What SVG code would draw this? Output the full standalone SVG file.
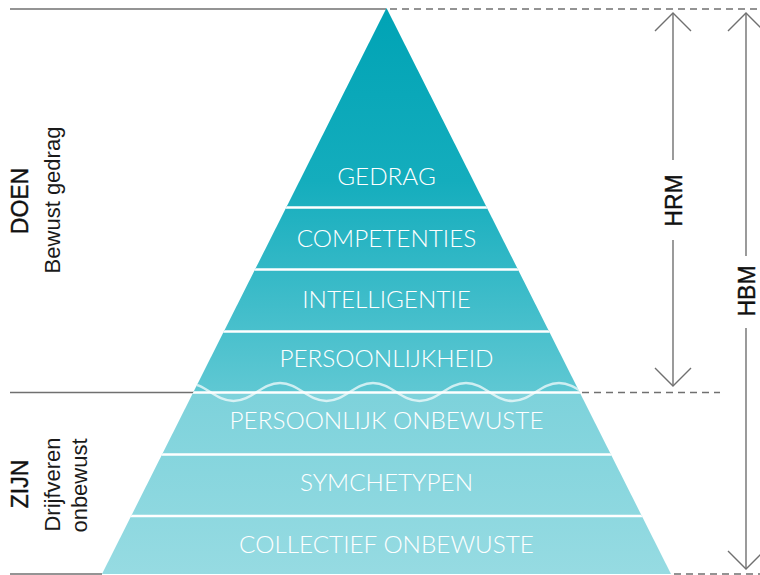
<svg xmlns="http://www.w3.org/2000/svg" width="760" height="575" viewBox="0 0 760 575">
<defs>
<linearGradient id="gUp" x1="0" y1="8" x2="0" y2="392" gradientUnits="userSpaceOnUse">
<stop offset="0" stop-color="#00A3B5"/>
<stop offset="0.45" stop-color="#14ADBD"/>
<stop offset="1" stop-color="#5FC8D3"/>
</linearGradient>
<linearGradient id="gLow" x1="0" y1="392" x2="0" y2="574" gradientUnits="userSpaceOnUse">
<stop offset="0" stop-color="#7DD2DB"/>
<stop offset="1" stop-color="#96DBE2"/>
</linearGradient>
<clipPath id="pyr"><polygon points="386.5,8 102,574 671,574"/></clipPath>
<style>
.lbl{font-family:Lato,"Liberation Sans",sans-serif;font-weight:300;font-size:24.3px;fill:#fff;text-anchor:middle}
.side{font-family:"Liberation Sans",Arial,sans-serif;font-size:22px;fill:#1a1a1a;text-anchor:middle}
.head{font-family:"Liberation Sans",Arial,sans-serif;font-size:23px;fill:#111;text-anchor:middle;stroke:#111;stroke-width:0.4}
.gl{stroke:#707070;stroke-width:1.4;fill:none}
.dash{stroke:#707070;stroke-width:1.4;fill:none;stroke-dasharray:7 5}
.sep{stroke:#fff;stroke-width:2.5}
</style>
</defs>
<g id="guides">
<line class="gl" x1="10" y1="9" x2="386" y2="9"/>
<line class="dash" x1="390" y1="9" x2="760" y2="9"/>
<line class="gl" x1="10" y1="392.5" x2="195" y2="392.5"/>
<line class="dash" x1="582" y1="392.5" x2="720" y2="392.5"/>
<line class="gl" x1="10" y1="574" x2="102" y2="574"/>
<line class="dash" x1="674" y1="574" x2="760" y2="574"/>
</g>
<g id="pyramid" clip-path="url(#pyr)">
<rect x="90" y="0" width="600" height="392.5" fill="url(#gUp)"/>
<rect x="90" y="392.5" width="600" height="185" fill="url(#gLow)"/>
<line class="sep" x1="90" y1="207.5" x2="690" y2="207.5"/>
<line class="sep" x1="90" y1="269.5" x2="690" y2="269.5"/>
<line class="sep" x1="90" y1="331.5" x2="690" y2="331.5"/>
<line class="sep" x1="90" y1="392.5" x2="690" y2="392.5"/>
<line class="sep" x1="90" y1="454.5" x2="690" y2="454.5"/>
<line class="sep" x1="90" y1="516" x2="690" y2="516"/>
<path d="M187,383 C205.6,383 214.9,401 233.5,401 S261.4,383 280,383 S307.9,401 326.5,401 S354.4,383 373,383 S400.9,401 419.5,401 S447.4,383 466,383 S493.9,401 512.5,401 S540.4,383 559,383 S586.9,401 605.5,401" fill="none" stroke="#fff" stroke-opacity="0.7" stroke-width="2.5"/>
</g>
<g id="n-gedrag"><text class="lbl" x="386.5" y="184.5">GEDRAG</text></g>
<g id="n-competenties"><text class="lbl" x="386.5" y="246.5">COMPETENTIES</text></g>
<g id="n-intelligentie"><text class="lbl" x="386.5" y="307.5">INTELLIGENTIE</text></g>
<g id="n-persoonlijkheid"><text class="lbl" x="386.5" y="367">PERSOONLIJKHEID</text></g>
<g id="n-persoonlijk-onbewuste"><text class="lbl" x="386.5" y="429">PERSOONLIJK ONBEWUSTE</text></g>
<g id="n-symchetypen"><text class="lbl" x="386.5" y="491">SYMCHETYPEN</text></g>
<g id="n-collectief"><text class="lbl" x="386.5" y="553">COLLECTIEF ONBEWUSTE</text></g>
<g id="doen">
<text class="head" transform="translate(28,201) rotate(-90)">DOEN</text>
<text class="side" transform="translate(60,200) rotate(-90)">Bewust gedrag</text>
</g>
<g id="zijn">
<text class="head" transform="translate(28,484) rotate(-90)">ZIJN</text>
<text class="side" transform="translate(60,484.5) rotate(-90)">Drijfveren</text>
<text class="side" transform="translate(87,485.5) rotate(-90)">onbewust</text>
</g>
<g id="connectors">
<line class="gl" x1="673" y1="13" x2="673" y2="160"/>
<line class="gl" x1="673" y1="240" x2="673" y2="386"/>
<polyline class="gl" points="655,31 673,13 691,31"/>
<polyline class="gl" points="655,368 673,386 691,368"/>
<line class="gl" x1="746" y1="13" x2="746" y2="256"/>
<line class="gl" x1="746" y1="328" x2="746" y2="569"/>
<polyline class="gl" points="728,31 746,13 764,31"/>
<polyline class="gl" points="728,551 746,569 764,551"/>
</g>
<g id="n-hrm"><text class="head" transform="translate(682,200.5) rotate(-90)">HRM</text></g>
<g id="n-hbm"><text class="head" transform="translate(755,291) rotate(-90)">HBM</text></g>
</svg>
